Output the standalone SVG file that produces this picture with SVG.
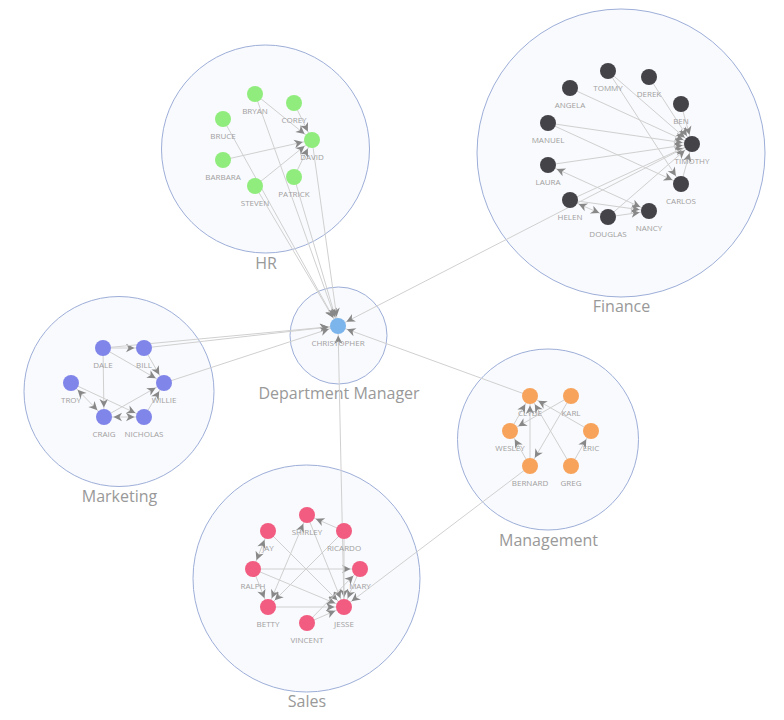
<svg xmlns="http://www.w3.org/2000/svg" width="784" height="720" viewBox="0 0 784 720">
<style>
.cl{fill:#f9fafd;stroke:#9daed8;stroke-width:1}
.ct{font-family:"Open Sans","Liberation Sans",sans-serif;font-size:16px;fill:#999999;text-anchor:middle}
.nt{font-family:"Open Sans","Liberation Sans",sans-serif;font-size:8px;fill:#a0a0a0;text-anchor:middle}
#edges line{stroke:#d0d0d0;stroke-width:1;fill:none;marker-end:url(#a)}
#edges line.b{marker-start:url(#s)}
.hr{fill:#90ed7d}.fi{fill:#434348}.mk{fill:#8085e9}.dm{fill:#7cb5ec}.mg{fill:#f7a35c}.sa{fill:#f15c80}
</style>
<defs>
<marker id="a" markerUnits="userSpaceOnUse" markerWidth="10" markerHeight="10" refX="9.5" refY="0" orient="auto" overflow="visible"><path d="M0,0 L-8.5,-4.3 L-6,0 L-8.5,4.3 Z" fill="#888888"/></marker>
<marker id="s" markerUnits="userSpaceOnUse" markerWidth="10" markerHeight="10" refX="9.5" refY="0" orient="auto-start-reverse" overflow="visible"><path d="M0,0 L-8.5,-4.3 L-6,0 L-8.5,4.3 Z" fill="#888888"/></marker>
</defs>
<rect width="784" height="720" fill="#ffffff"/>
<g id="clusters">
<g id="cluster-hr"><circle class="cl" cx="265.5" cy="149" r="104"/><text class="ct" x="266" y="268.5">HR</text></g>
<g id="cluster-finance"><circle class="cl" cx="621" cy="153" r="144"/><text class="ct" x="621.5" y="312">Finance</text></g>
<g id="cluster-marketing"><circle class="cl" cx="119" cy="391.5" r="95"/><text class="ct" x="119.5" y="502">Marketing</text></g>
<g id="cluster-department-manager"><circle class="cl" cx="338.5" cy="335.5" r="48.5"/><text class="ct" x="339" y="399">Department Manager</text></g>
<g id="cluster-management"><circle class="cl" cx="548" cy="439.5" r="90.5"/><text class="ct" x="548.5" y="546">Management</text></g>
<g id="cluster-sales"><circle class="cl" cx="306.5" cy="578.5" r="113.5"/><text class="ct" x="307" y="707">Sales</text></g>
</g>
<g id="edges">
<line x1="255" y1="94" x2="312" y2="140"/>
<line x1="294" y1="103" x2="312" y2="140"/>
<line x1="223" y1="160" x2="312" y2="140"/>
<line x1="255" y1="186" x2="312" y2="140"/>
<line x1="294" y1="177" x2="312" y2="140"/>
<line x1="223" y1="119" x2="338" y2="326"/>
<line x1="255" y1="94" x2="338" y2="326"/>
<line x1="255" y1="186" x2="338" y2="326"/>
<line x1="294" y1="177" x2="338" y2="326"/>
<line x1="312" y1="140" x2="338" y2="326"/>
<line x1="570" y1="88" x2="692" y2="144"/>
<line x1="548" y1="123" x2="692" y2="144"/>
<line x1="608" y1="71" x2="692" y2="144"/>
<line x1="649" y1="77" x2="692" y2="144"/>
<line x1="681" y1="104" x2="692" y2="144"/>
<line x1="548" y1="165" x2="692" y2="144"/>
<line x1="570" y1="200" x2="692" y2="144"/>
<line x1="608" y1="217" x2="692" y2="144"/>
<line x1="681" y1="184" x2="692" y2="144"/>
<line x1="548" y1="123" x2="681" y2="184"/>
<line x1="608" y1="71" x2="681" y2="184"/>
<line class="b" x1="548" y1="165" x2="649" y2="211"/>
<line class="b" x1="570" y1="200" x2="608" y2="217"/>
<line x1="570" y1="200" x2="649" y2="211"/>
<line x1="608" y1="217" x2="649" y2="211"/>
<line x1="692" y1="144" x2="338" y2="326"/>
<line x1="103" y1="348" x2="144" y2="348"/>
<line x1="103" y1="348" x2="164" y2="383"/>
<line x1="144" y1="348" x2="164" y2="383"/>
<line x1="103" y1="348" x2="104" y2="417"/>
<line class="b" x1="71" y1="383" x2="104" y2="417"/>
<line x1="71" y1="383" x2="144" y2="417"/>
<line class="b" x1="104" y1="417" x2="144" y2="417"/>
<line x1="104" y1="417" x2="164" y2="383"/>
<line x1="144" y1="417" x2="164" y2="383"/>
<line x1="103" y1="348" x2="338" y2="326"/>
<line x1="144" y1="348" x2="338" y2="326"/>
<line x1="164" y1="383" x2="338" y2="326"/>
<line x1="510" y1="431" x2="530" y2="396"/>
<line x1="530" y1="466" x2="530" y2="396"/>
<line x1="571" y1="466" x2="530" y2="396"/>
<line x1="591" y1="431" x2="530" y2="396"/>
<line x1="571" y1="396" x2="510" y2="431"/>
<line x1="571" y1="396" x2="530" y2="466"/>
<line x1="530" y1="466" x2="510" y2="431"/>
<line x1="571" y1="466" x2="591" y2="431"/>
<line x1="530" y1="396" x2="338" y2="326"/>
<line x1="530" y1="466" x2="344" y2="607"/>
<line x1="344" y1="531" x2="307" y2="515"/>
<line class="b" x1="268" y1="531" x2="253" y2="569"/>
<line x1="253" y1="569" x2="360" y2="569"/>
<line x1="253" y1="569" x2="268" y2="607"/>
<line x1="253" y1="569" x2="344" y2="607"/>
<line x1="268" y1="531" x2="344" y2="607"/>
<line class="b" x1="307" y1="515" x2="268" y2="607"/>
<line x1="344" y1="531" x2="268" y2="607"/>
<line x1="307" y1="515" x2="344" y2="607"/>
<line x1="344" y1="531" x2="344" y2="607"/>
<line x1="268" y1="607" x2="344" y2="607"/>
<line x1="307" y1="623" x2="344" y2="607"/>
<line x1="307" y1="623" x2="360" y2="569"/>
<line x1="360" y1="569" x2="344" y2="607"/>
<line x1="344" y1="607" x2="338" y2="326"/>
</g>
<g id="nodes">
<g id="n-bryan"><circle class="hr" cx="255" cy="94" r="8"/><text class="nt" x="255" y="114">BRYAN</text></g>
<g id="n-corey"><circle class="hr" cx="294" cy="103" r="8"/><text class="nt" x="294" y="123">COREY</text></g>
<g id="n-bruce"><circle class="hr" cx="223" cy="119" r="8"/><text class="nt" x="223" y="139">BRUCE</text></g>
<g id="n-david"><circle class="hr" cx="312" cy="140" r="8"/><text class="nt" x="312" y="160">DAVID</text></g>
<g id="n-barbara"><circle class="hr" cx="223" cy="160" r="8"/><text class="nt" x="223" y="180">BARBARA</text></g>
<g id="n-patrick"><circle class="hr" cx="294" cy="177" r="8"/><text class="nt" x="294" y="197">PATRICK</text></g>
<g id="n-steven"><circle class="hr" cx="255" cy="186" r="8"/><text class="nt" x="255" y="206">STEVEN</text></g>
<g id="n-tommy"><circle class="fi" cx="608" cy="71" r="8"/><text class="nt" x="608" y="91">TOMMY</text></g>
<g id="n-derek"><circle class="fi" cx="649" cy="77" r="8"/><text class="nt" x="649" y="97">DEREK</text></g>
<g id="n-angela"><circle class="fi" cx="570" cy="88" r="8"/><text class="nt" x="570" y="108">ANGELA</text></g>
<g id="n-ben"><circle class="fi" cx="681" cy="104" r="8"/><text class="nt" x="681" y="124">BEN</text></g>
<g id="n-manuel"><circle class="fi" cx="548" cy="123" r="8"/><text class="nt" x="548" y="143">MANUEL</text></g>
<g id="n-timothy"><circle class="fi" cx="692" cy="144" r="8"/><text class="nt" x="692" y="164">TIMOTHY</text></g>
<g id="n-laura"><circle class="fi" cx="548" cy="165" r="8"/><text class="nt" x="548" y="185">LAURA</text></g>
<g id="n-carlos"><circle class="fi" cx="681" cy="184" r="8"/><text class="nt" x="681" y="204">CARLOS</text></g>
<g id="n-helen"><circle class="fi" cx="570" cy="200" r="8"/><text class="nt" x="570" y="220">HELEN</text></g>
<g id="n-nancy"><circle class="fi" cx="649" cy="211" r="8"/><text class="nt" x="649" y="231">NANCY</text></g>
<g id="n-douglas"><circle class="fi" cx="608" cy="217" r="8"/><text class="nt" x="608" y="237">DOUGLAS</text></g>
<g id="n-dale"><circle class="mk" cx="103" cy="348" r="8"/><text class="nt" x="103" y="368">DALE</text></g>
<g id="n-bill"><circle class="mk" cx="144" cy="348" r="8"/><text class="nt" x="144" y="368">BILL</text></g>
<g id="n-troy"><circle class="mk" cx="71" cy="383" r="8"/><text class="nt" x="71" y="403">TROY</text></g>
<g id="n-willie"><circle class="mk" cx="164" cy="383" r="8"/><text class="nt" x="164" y="403">WILLIE</text></g>
<g id="n-craig"><circle class="mk" cx="104" cy="417" r="8"/><text class="nt" x="104" y="437">CRAIG</text></g>
<g id="n-nicholas"><circle class="mk" cx="144" cy="417" r="8"/><text class="nt" x="144" y="437">NICHOLAS</text></g>
<g id="n-christopher"><circle class="dm" cx="338" cy="326" r="8"/><text class="nt" x="338" y="346">CHRISTOPHER</text></g>
<g id="n-clyde"><circle class="mg" cx="530" cy="396" r="8"/><text class="nt" x="530" y="416">CLYDE</text></g>
<g id="n-karl"><circle class="mg" cx="571" cy="396" r="8"/><text class="nt" x="571" y="416">KARL</text></g>
<g id="n-wesley"><circle class="mg" cx="510" cy="431" r="8"/><text class="nt" x="510" y="451">WESLEY</text></g>
<g id="n-eric"><circle class="mg" cx="591" cy="431" r="8"/><text class="nt" x="591" y="451">ERIC</text></g>
<g id="n-bernard"><circle class="mg" cx="530" cy="466" r="8"/><text class="nt" x="530" y="486">BERNARD</text></g>
<g id="n-greg"><circle class="mg" cx="571" cy="466" r="8"/><text class="nt" x="571" y="486">GREG</text></g>
<g id="n-shirley"><circle class="sa" cx="307" cy="515" r="8"/><text class="nt" x="307" y="535">SHIRLEY</text></g>
<g id="n-jay"><circle class="sa" cx="268" cy="531" r="8"/><text class="nt" x="268" y="551">JAY</text></g>
<g id="n-ricardo"><circle class="sa" cx="344" cy="531" r="8"/><text class="nt" x="344" y="551">RICARDO</text></g>
<g id="n-ralph"><circle class="sa" cx="253" cy="569" r="8"/><text class="nt" x="253" y="589">RALPH</text></g>
<g id="n-mary"><circle class="sa" cx="360" cy="569" r="8"/><text class="nt" x="360" y="589">MARY</text></g>
<g id="n-betty"><circle class="sa" cx="268" cy="607" r="8"/><text class="nt" x="268" y="627">BETTY</text></g>
<g id="n-jesse"><circle class="sa" cx="344" cy="607" r="8"/><text class="nt" x="344" y="627">JESSE</text></g>
<g id="n-vincent"><circle class="sa" cx="307" cy="623" r="8"/><text class="nt" x="307" y="643">VINCENT</text></g>
</g>
</svg>
